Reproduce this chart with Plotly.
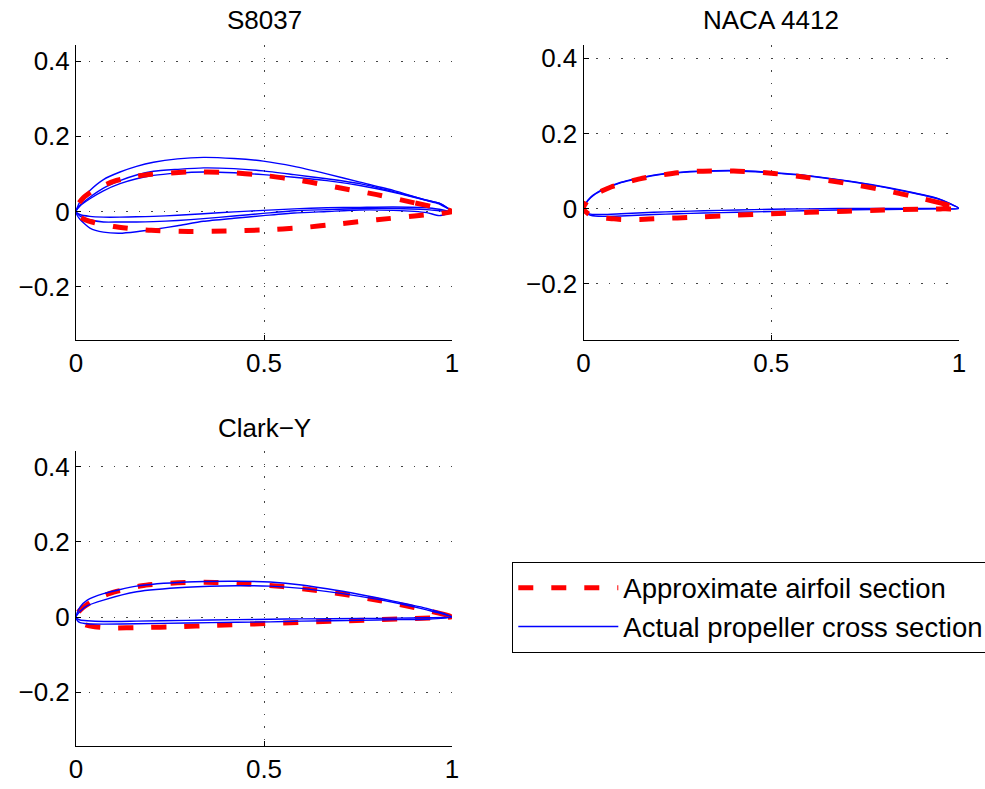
import plotly.graph_objects as go

# ---------------- data ----------------
# S8037 approximate airfoil section
s8037_approx_x = [0.0, 0.005, 0.02, 0.05, 0.1, 0.15, 0.2, 0.3, 0.4, 0.5, 0.6, 0.7, 0.8, 0.9, 1.0]
s8037_approx_upper = [0.0, 0.018, 0.037, 0.058, 0.080, 0.092, 0.099, 0.105, 0.104, 0.096, 0.082, 0.063, 0.045, 0.023, 0.0]
s8037_approx_lower = [0.0, -0.010, -0.020, -0.030, -0.040, -0.046, -0.050, -0.053, -0.052, -0.049, -0.043, -0.033, -0.022, -0.012, 0.0]

# S8037 actual propeller cross sections (three stations)
s8037_act_x = [0.0, 0.01, 0.037, 0.073, 0.117, 0.161, 0.206, 0.27, 0.339, 0.42, 0.498, 0.58, 0.667, 0.755, 0.844, 0.933, 0.966, 1.0]
s8037_act_upper_a = [-0.002, 0.025, 0.056, 0.085, 0.105, 0.120, 0.131, 0.140, 0.144, 0.141, 0.134, 0.120, 0.100, 0.078, 0.056, 0.030, 0.022, 0.0]
s8037_act_lower_a = [-0.002, -0.020, -0.044, -0.055, -0.058, -0.054, -0.048, -0.038, -0.026, -0.018, -0.011, -0.004, 0.000, 0.004, 0.003, -0.003, -0.011, 0.0]
s8037_act_upper_b = [0.0, 0.016, 0.038, 0.062, 0.082, 0.097, 0.107, 0.112, 0.116, 0.114, 0.108, 0.098, 0.087, 0.074, 0.053, 0.030, 0.022, 0.0]
s8037_act_lower_b = [0.0, -0.012, -0.022, -0.028, -0.028, -0.028, -0.027, -0.024, -0.019, -0.012, -0.005, 0.002, 0.005, 0.008, 0.008, 0.005, 0.002, 0.0]
s8037_act_upper_c = [0.0, 0.014, 0.034, 0.055, 0.074, 0.087, 0.096, 0.102, 0.105, 0.103, 0.098, 0.091, 0.082, 0.069, 0.051, 0.029, 0.020, 0.0]
s8037_act_lower_c = [0.0, -0.008, -0.013, -0.015, -0.015, -0.014, -0.013, -0.010, -0.006, -0.001, 0.003, 0.007, 0.010, 0.011, 0.012, 0.010, 0.006, 0.0]

# NACA 4412 approximate airfoil section
naca_approx_x = [0.0, 0.0125, 0.025, 0.05, 0.075, 0.1, 0.15, 0.2, 0.25, 0.3, 0.4, 0.5, 0.6, 0.7, 0.8, 0.9, 0.95, 1.0]
naca_approx_upper = [0.0, 0.024, 0.034, 0.047, 0.058, 0.066, 0.079, 0.088, 0.095, 0.099, 0.100, 0.094, 0.082, 0.067, 0.049, 0.027, 0.015, 0.0]
naca_approx_lower = [0.0, -0.014, -0.020, -0.025, -0.027, -0.029, -0.029, -0.027, -0.025, -0.023, -0.018, -0.014, -0.010, -0.007, -0.004, -0.002, -0.001, 0.0]

# NACA 4412 actual propeller cross sections (two stations)
naca_act_x = [0.0, 0.005, 0.019, 0.05, 0.1, 0.187, 0.25, 0.32, 0.41, 0.5, 0.587, 0.68, 0.765, 0.85, 0.943, 1.0]
naca_act_upper_a = [-0.004, 0.012, 0.030, 0.050, 0.070, 0.089, 0.096, 0.100, 0.101, 0.096, 0.089, 0.077, 0.064, 0.048, 0.027, 0.0]
naca_act_lower_a = [-0.004, -0.012, -0.018, -0.021, -0.020, -0.016, -0.014, -0.012, -0.010, -0.008, -0.006, -0.004, -0.003, -0.002, -0.001, 0.0]
naca_act_upper_b = [-0.004, 0.011, 0.029, 0.049, 0.069, 0.088, 0.095, 0.099, 0.100, 0.095, 0.088, 0.076, 0.063, 0.047, 0.026, 0.0]
naca_act_lower_b = [-0.004, -0.010, -0.015, -0.016, -0.014, -0.010, -0.008, -0.006, -0.004, -0.002, -0.001, 0.000, 0.000, 0.000, 0.000, 0.0]

# Clark-Y approximate airfoil section
clark_approx_x = [0.0, 0.008, 0.025, 0.05, 0.09, 0.175, 0.27, 0.37, 0.46, 0.55, 0.63, 0.72, 0.81, 0.9, 0.986, 1.0]
clark_approx_upper = [0.0, 0.015, 0.030, 0.046, 0.063, 0.083, 0.091, 0.092, 0.088, 0.081, 0.072, 0.059, 0.043, 0.025, 0.005, 0.0]
clark_approx_lower = [0.0, -0.012, -0.021, -0.026, -0.029, -0.028, -0.026, -0.022, -0.019, -0.016, -0.013, -0.010, -0.007, -0.004, -0.001, 0.0]

# Clark-Y actual propeller cross sections (two stations)
clark_act_x = [0.0, 0.004, 0.011, 0.03, 0.073, 0.161, 0.294, 0.427, 0.516, 0.6, 0.755, 0.85, 0.933, 1.0]
clark_act_upper_a = [0.0, 0.013, 0.027, 0.045, 0.062, 0.082, 0.093, 0.095, 0.093, 0.085, 0.060, 0.041, 0.023, 0.0]
clark_act_lower_a = [0.0, -0.010, -0.015, -0.018, -0.019, -0.018, -0.016, -0.014, -0.013, -0.011, -0.009, -0.007, -0.006, 0.0]
clark_act_upper_b = [0.0, 0.007, 0.015, 0.030, 0.045, 0.067, 0.079, 0.083, 0.082, 0.076, 0.055, 0.038, 0.019, 0.0]
clark_act_lower_b = [0.0, -0.005, -0.008, -0.010, -0.012, -0.011, -0.009, -0.007, -0.006, -0.005, -0.004, -0.003, -0.002, 0.0]

titles = ["S8037", "NACA 4412", "Clark\u2212Y"]
legend_names = ["Approximate airfoil section", "Actual propeller cross section"]
x_ticks = [0, 0.5, 1]
y_ticks = [-0.2, 0, 0.2, 0.4]

RED = "#FF0000"
BLUE = "#0000FF"
FONT = "Liberation Sans, Arial, Helvetica, sans-serif"


def contour(xs, upper, lower):
    cx = list(reversed(xs)) + list(xs[1:])
    cy = list(reversed(upper)) + list(lower[1:])
    return cx, cy


fig = go.Figure()


def add_red(xs, up, lo, ax, show):
    cx, cy = contour(xs, up, lo)
    fig.add_trace(go.Scatter(
        x=cx, y=cy, mode="lines", xaxis="x" + ax, yaxis="y" + ax,
        line=dict(color=RED, width=5, dash="15px,18px", shape="spline", smoothing=0.6),
        name=legend_names[0], showlegend=show, legendgroup="a", legendrank=1))


def add_blue(xs, up, lo, ax, show):
    cx, cy = contour(xs, up, lo)
    fig.add_trace(go.Scatter(
        x=cx, y=cy, mode="lines", xaxis="x" + ax, yaxis="y" + ax,
        line=dict(color=BLUE, width=1.4, shape="spline", smoothing=0.6),
        name=legend_names[1], showlegend=show, legendgroup="b", legendrank=2))


# S8037 (red drawn on top)
add_blue(s8037_act_x, s8037_act_upper_a, s8037_act_lower_a, "", True)
add_blue(s8037_act_x, s8037_act_upper_b, s8037_act_lower_b, "", False)
add_blue(s8037_act_x, s8037_act_upper_c, s8037_act_lower_c, "", False)
add_red(s8037_approx_x, s8037_approx_upper, s8037_approx_lower, "", True)

# NACA 4412
add_blue(naca_act_x, naca_act_upper_a, naca_act_lower_a, "2", False)
add_blue(naca_act_x, naca_act_upper_b, naca_act_lower_b, "2", False)
add_red(naca_approx_x, naca_approx_upper, naca_approx_lower, "2", False)

# Clark-Y (blue drawn on top)
add_red(clark_approx_x, clark_approx_upper, clark_approx_lower, "3", False)
add_blue(clark_act_x, clark_act_upper_a, clark_act_lower_a, "3", False)
add_blue(clark_act_x, clark_act_upper_b, clark_act_lower_b, "3", False)

W, H = 985, 789


def xdom(l, r):
    return [l / W, r / W]


def ydom(top, bottom):
    return [1 - bottom / H, 1 - top / H]


common_x = dict(range=[0, 1], tickvals=x_ticks, ticktext=["0", "0.5", "1"],
                showline=True, linecolor="black", linewidth=1, mirror=False,
                ticks="inside", ticklen=5, tickcolor="black",
                showgrid=True, gridcolor="#444444", gridwidth=1, griddash="1.5px,11px",
                zeroline=False, tickfont=dict(family=FONT, size=26, color="black"),
                fixedrange=True)
common_y = dict(tickvals=y_ticks,
                showline=True, linecolor="black", linewidth=1, mirror=False,
                ticks="inside", ticklen=5, tickcolor="black",
                showgrid=True, gridcolor="#444444", gridwidth=1, griddash="1.5px,11px",
                zeroline=False, tickfont=dict(family=FONT, size=26, color="black"),
                fixedrange=True)

# pixel layout of each panel: (left, right, top, bottom, y-value of zero line in px, px per unit)
panels = [
    (76, 452, 45, 340, 211.5, 376.0),
    (583.5, 959, 45, 340, 208.5, 375.5),
    (76, 452, 451, 746, 617.0, 376.0),
]

layout = {}
for i, (l, r, t, b, z, s) in enumerate(panels):
    suffix = "" if i == 0 else str(i + 1)
    layout["xaxis" + suffix] = dict(common_x, domain=xdom(l, r), anchor="y" + suffix)
    layout["yaxis" + suffix] = dict(common_y, domain=ydom(t, b), anchor="x" + suffix,
                                    range=[(z - b) / s, (z - t) / s])

title_pos = [(264, 20), (771, 20), (264, 428)]
annotations = []
for txt, (px, py) in zip(titles, title_pos):
    annotations.append(dict(text=txt, x=px / W, y=1 - py / H, xref="paper", yref="paper",
                            xanchor="center", yanchor="middle", showarrow=False,
                            font=dict(family=FONT, size=26, color="black")))

fig.update_layout(
    width=W, height=H,
    margin=dict(l=0, r=0, t=0, b=0, autoexpand=False),
    paper_bgcolor="white", plot_bgcolor="white",
    annotations=annotations,
    showlegend=True,
    legend=dict(x=512 / W, y=1 - 562 / H, xanchor="left", yanchor="top",
                bordercolor="black", borderwidth=1.3, bgcolor="white",
                font=dict(family=FONT, size=27.5, color="black"),
                itemwidth=100, tracegroupgap=0, traceorder="grouped"),
    **layout,
)

fig.write_html("out.html")
